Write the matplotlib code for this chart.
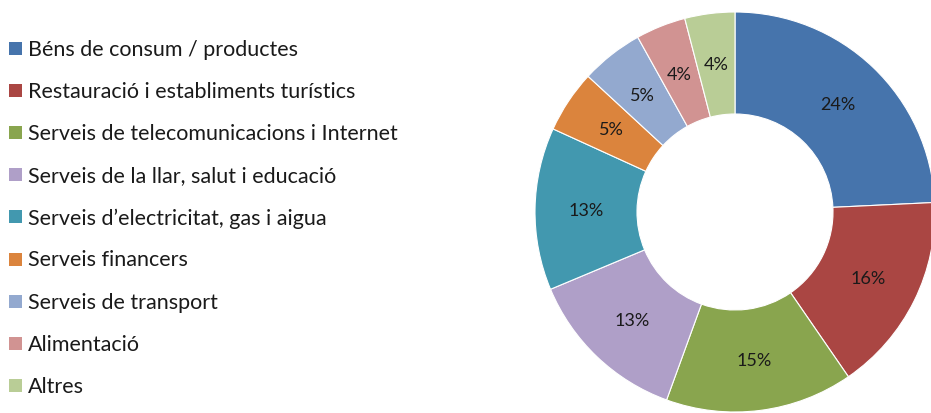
import matplotlib.pyplot as plt
from matplotlib.patches import Rectangle

plt.rcParams['font.family'] = ['Lato', 'DejaVu Sans']

categories = ["Béns de consum / productes",
              "Restauració i establiments turístics",
              "Serveis de telecomunicacions i Internet",
              "Serveis de la llar, salut i educació",
              "Serveis d\u2019electricitat, gas i aigua",
              "Serveis financers",
              "Serveis de transport",
              "Alimentació",
              "Altres"]
values = [24, 16, 15, 13, 13, 5, 5, 4, 4]
colors = ["#4674AC", "#AA4643", "#89A54E", "#AF9FC8", "#4298AF",
          "#DB843D", "#93A9CF", "#D19392", "#B9CD96"]

fig = plt.figure(figsize=(9.31, 4.14), dpi=100)

# donut on the right
W, H = 931, 414
cx, cy, R = 735, 201, 200
ax = fig.add_axes([(cx - R) / W, (cy - R) / H, 2 * R / W, 2 * R / H])
wedges, texts, autotexts = ax.pie(
    values, colors=colors, startangle=90, counterclock=False,
    radius=1, autopct='%.0f%%', pctdistance=0.745,
    wedgeprops=dict(width=0.51, edgecolor='white', linewidth=0.8),
    textprops=dict(fontsize=13, color='#1a1a1a'))
ax.set_xlim(-1, 1)
ax.set_ylim(-1, 1)
ax.set_aspect('equal')
ax.axis('off')

# legend on the left, drawn by hand
for i, (lab, col) in enumerate(zip(categories, colors)):
    y = 364 - i * 42.1
    fig.patches.append(Rectangle((9 / W, (y - 6) / H), 13 / W, 13 / H,
                                 transform=fig.transFigure, facecolor=col,
                                 edgecolor='none'))
    fig.text(28 / W, y / H, lab, fontsize=15.5, color='#1a1a1a',
             va='center', ha='left')

fig.savefig('out.png', dpi=100)
